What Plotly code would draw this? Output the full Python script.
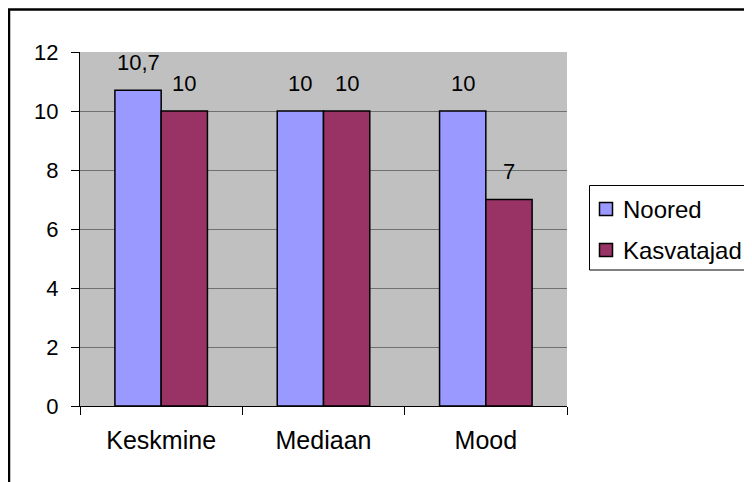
import plotly.graph_objects as go

categories = ["Keskmine", "Mediaan", "Mood"]
noored = [10.7, 10, 10]
kasvatajad = [10, 10, 7]
noored_labels = ["10,7", "10", "10"]
kasvatajad_labels = ["10", "10", "7"]
y_ticks = [0, 2, 4, 6, 8, 10, 12]
series_names = ["Noored", "Kasvatajad"]
series_colors = ["#9999FF", "#993366"]

# page body has an 8px margin, so work in figure coordinates = page - 8
OFF = 8
W, H = 752 - OFF, 482 - OFF
L = 80 - OFF
T = 52 - OFF
R = W - (567 - OFF)
B = H - (406 - OFF)
pw, ph = W - L - R, H - T - B

FAM = "Liberation Sans, Arial, sans-serif"
font22 = dict(family=FAM, size=22, color="black")
font24 = dict(family=FAM, size=24, color="black")

fig = go.Figure()
for name, vals, col in zip(series_names, [noored, kasvatajad], series_colors):
    fig.add_trace(go.Bar(name=name, x=categories, y=vals, showlegend=False,
                         marker=dict(color=col, line=dict(color="black", width=1.5))))

bargap = 0.43
bar_px = pw / len(categories) * (1 - bargap) / 2
for vals, labels, sh in [(noored, noored_labels, -bar_px / 2), (kasvatajad, kasvatajad_labels, bar_px / 2)]:
    for c, v, t in zip(categories, vals, labels):
        fig.add_annotation(x=c, y=v, text=t, showarrow=False, xshift=sh, yshift=28,
                           yanchor="middle", font=font22)

def px(x):
    return (x - OFF - L) / pw

def py(y):
    return (H - B - (y - OFF)) / ph

# outer chart border (continues beyond the right and bottom edges)
fig.add_shape(type="rect", xref="paper", yref="paper",
              x0=px(9), x1=px(770), y0=py(500), y1=py(9.5),
              line=dict(color="black", width=2.5), layer="below")

# legend box (continues beyond the right edge)
fig.add_shape(type="rect", xref="paper", yref="paper",
              x0=px(589.5), x1=px(770), y0=py(270), y1=py(185.5),
              line=dict(color="black", width=1), fillcolor="white")
for i, (name, col) in enumerate(zip(series_names, series_colors)):
    cy = 209 + i * 41
    fig.add_shape(type="rect", xref="paper", yref="paper",
                  x0=px(599.5), x1=px(612.5), y0=py(cy + 6.5), y1=py(cy - 6.5),
                  line=dict(color="black", width=1.5), fillcolor=col)
    fig.add_annotation(xref="paper", yref="paper", x=px(621), y=py(cy), text=name,
                       showarrow=False, xanchor="left", yanchor="middle", font=font24)

fig.update_layout(
    width=W, height=H,
    margin=dict(l=L, r=R, t=T, b=B, autoexpand=False),
    paper_bgcolor="white", plot_bgcolor="#C0C0C0",
    barmode="group", bargap=bargap, bargroupgap=0,
    font=font22,
    showlegend=False,
    xaxis=dict(showline=True, linecolor="black", linewidth=1, ticks="outside", ticklen=8,
               tickcolor="black", tickson="boundaries", ticklabelstandoff=12,
               tickfont=dict(family=FAM, size=25, color="black")),
    yaxis=dict(range=[0, 12], tickvals=y_ticks, showline=True, linecolor="black", linewidth=1,
               ticks="outside", ticklen=8, tickcolor="black", showgrid=True,
               gridcolor="#707070", gridwidth=1, zeroline=False, tickfont=font22,
               ticklabelstandoff=8),
)

fig.write_html("out.html")
